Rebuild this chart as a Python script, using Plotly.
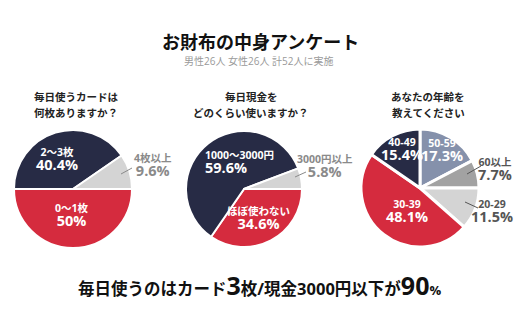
import plotly.graph_objects as go

# ---- survey data ----
card_labels = ["0〜1枚", "2〜3枚", "4枚以上"]
card_values = [50, 40.4, 9.6]

cash_labels = ["ほぼ使わない", "1000〜3000円", "3000円以上"]
cash_values = [34.6, 59.6, 5.8]

age_labels = ["50-59", "60以上", "20-29", "30-39", "40-49"]
age_values = [17.3, 7.7, 11.5, 48.1, 15.4]

# ---- styling ----
W, H = 520, 323
NAVY = "#272b45"
RED = "#d52b3e"
LIGHT = "#d4d4d4"
SLATE = "#8591ab"
MID = "#a2a2a2"
FONT = "Open Sans, Noto Sans CJK JP, sans-serif"
JP = "Noto Sans CJK JP, sans-serif"

card_colors = [RED, NAVY, LIGHT]
cash_colors = [RED, NAVY, LIGHT]
age_colors = [SLATE, MID, LIGHT, RED, NAVY]


def px(x):
    return x / W


def py(y):
    return 1 - y / H


def domain(cx, cy, r):
    return dict(x=[px(cx - r), px(cx + r)], y=[py(cy + r), py(cy - r)])


fig = go.Figure()

pies = [
    (card_labels, card_values, card_colors, 90, (73, 189, 59), 2),
    (cash_labels, cash_values, cash_colors, 90, (244, 189, 58), 2),
    (age_labels, age_values, age_colors, 0, (420, 188, 59), 3),
]
for labels, values, colors, rot, (cx, cy, r), lw in pies:
    fig.add_trace(go.Pie(
        labels=labels, values=values, sort=False, direction="clockwise",
        rotation=rot, textinfo="none", hoverinfo="label+percent",
        marker=dict(colors=colors, line=dict(color="white", width=lw)),
        domain=domain(cx, cy, r), showlegend=False,
    ))

ann = []


def text(x, y, s, size, color, family=FONT, xanchor="center", align="center"):
    ann.append(dict(
        x=px(x), y=py(y), xref="paper", yref="paper", showarrow=False,
        text=s, xanchor=xanchor, yanchor="middle", align=align,
        font=dict(size=size, color=color, family=family),
    ))


def pct(v):
    return f"{v:g}%"


def slice_label(x, y, name, value, color, xanchor="center", align="center"):
    s = f"<b>{name}</b><br><b><span style='font-size:14.5px'>{pct(value)}</span></b>"
    text(x, y, s, 10.5, color, xanchor=xanchor, align=align)


# titles
text(260, 41, "<b>お財布の中身アンケート</b>", 18, "#111", family=JP)
text(259, 61, "男性26人 女性26人 計52人に実施", 10, "#9a9a9a")

# per-chart questions
questions = [
    (76, ["毎日使うカードは", "何枚ありますか？"]),
    (251, ["毎日現金を", "どのくらい使いますか？"]),
    (428, ["あなたの年齢を", "教えてください"]),
]
for qx, lines in questions:
    for i, line in enumerate(lines):
        text(qx, 96 + 16 * i, f"<b>{line}</b>", 10.5, "#222", family=JP)

GREY_TXT = "#8a8a8a"
DARK_TXT = "#555555"

# card chart labels
slice_label(57, 159, card_labels[1], card_values[1], "white")
slice_label(72, 216, card_labels[0], card_values[0], "white")
slice_label(153, 165, card_labels[2], card_values[2], GREY_TXT)

# cash chart labels
slice_label(203, 162, cash_labels[1], cash_values[1], "white", xanchor="left", align="left")
slice_label(258, 218, cash_labels[0], cash_values[0], "white")
slice_label(325, 166, cash_labels[2], cash_values[2], GREY_TXT)

# age chart labels
slice_label(402, 149, age_labels[4], age_values[4], "white")
slice_label(442, 150, age_labels[0], age_values[0], "white")
slice_label(407, 211, age_labels[3], age_values[3], "white")
slice_label(495, 169, age_labels[1], age_values[1], DARK_TXT)
slice_label(492, 211, age_labels[2], age_values[2], DARK_TXT)

# headline
text(259, 285,
     "<b>毎日使うのはカード<span style='font-size:25px'>3</span>枚/現金3000円以下が"
     "<span style='font-size:25px'>90</span><span style='font-size:13px'>%</span></b>",
     16.5, "#111")

# leader lines for small outside slices
leaders = [
    ((121, 174), (132, 168), GREY_TXT),
    ((295, 177), (306, 172), GREY_TXT),
    ((467, 174), (481, 166), DARK_TXT),
    ((465, 202), (478, 208), DARK_TXT),
]
shapes = []
for (x0, y0), (x1, y1), c in leaders:
    shapes.append(dict(type="line", xref="paper", yref="paper",
                       x0=px(x0), y0=py(y0), x1=px(x1), y1=py(y1),
                       line=dict(color=c, width=1)))

fig.update_layout(
    width=W, height=H, margin=dict(l=0, r=0, t=0, b=0),
    paper_bgcolor="white", plot_bgcolor="white",
    annotations=ann, shapes=shapes, font=dict(family=FONT),
)

fig.write_html("out.html", config={"displayModeBar": False})
